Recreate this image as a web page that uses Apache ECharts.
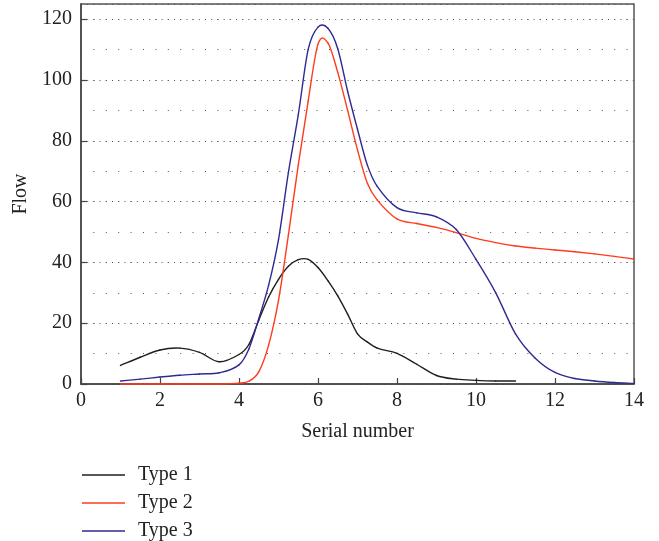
<!DOCTYPE html>
<html>
<head>
<meta charset="utf-8">
<script src="https://cdn.jsdelivr.net/npm/echarts@6/dist/echarts.min.js"></script>
<style>
  html, body { margin: 0; padding: 0; background: #fff; }
  #flow { width: 659px; height: 541px; }
</style>
</head>
<body>
<div id="flow"></div>
<script>
// serial numbers where the curves were read
const serial = [1, 1.5, 2, 2.5, 3, 3.5, 4, 4.25, 4.5, 4.75, 5, 5.25, 5.5, 5.75, 6, 6.25, 6.5, 6.75, 7, 7.25,
    7.5, 8, 8.5, 9, 9.5, 10, 10.5, 11, 11.5, 12, 12.5, 13, 13.5, 14]

// Type 1 stops at 11
const type1 = [6.1, 8.8, 11.2, 11.8, 10.4, 7.3, 9.7, 13, 21, 28.6, 34.4, 38.7, 40.9, 41, 38.3, 34, 29, 23, 16.5, 13.8,
    11.8, 10.1, 6.5, 2.8, 1.6, 1.2, 1.0, 1.0]
const type2 = [0, 0, 0, 0, 0, 0, 0.3, 0.9, 4, 12.8, 27.5, 49, 72, 93, 111.8, 112.2, 102.5, 90, 77, 66,
    60.5, 54.3, 52.8, 51.5, 49.8, 47.9, 46.5, 45.4, 44.7, 44.1, 43.5, 42.8, 42, 41.1]
const type3 = [1.0, 1.6, 2.3, 2.9, 3.3, 3.7, 6.3, 11.5, 21.5, 32.5, 47.5, 69.5, 88.5, 110, 117.4, 117, 110.3, 96.3, 83.8, 72,
    65, 58, 56.3, 55, 50.8, 41, 30, 16.5, 8.5, 3.8, 1.8, 1.0, 0.5, 0.2]

const names = ['Type 1', 'Type 2', 'Type 3']
const colors = ['#1e1e1e', '#ff3b1c', '#2e2a92']

const font = 'Liberation Serif'

// smooth curve through the read points, drawn with the chart's own coordinates
function curve(ys, i) {
    const pts = ys.map((y, k) => [serial[k], y])
    return {
        name: names[i],
        type: 'custom',
        data: pts,
        encode: { x: 0, y: 1 },
        itemStyle: { color: colors[i] },
        z: 3 + i,
        renderItem(params, api) {
            if (params.dataIndex !== 0) return null
            const p = pts.map(d => api.coord(d))
            const n = p.length
            const m = p.map((q, k) => {
                const a = p[Math.max(k - 1, 0)], b = p[Math.min(k + 1, n - 1)]
                return (b[1] - a[1]) / (b[0] - a[0])
            })
            const children = []
            for (let k = 0; k < n - 1; k++) {
                const h = p[k + 1][0] - p[k][0]
                children.push({
                    type: 'bezierCurve',
                    shape: {
                        x1: p[k][0], y1: p[k][1],
                        x2: p[k + 1][0], y2: p[k + 1][1],
                        cpx1: p[k][0] + h / 3, cpy1: p[k][1] + m[k] * h / 3,
                        cpx2: p[k + 1][0] - h / 3, cpy2: p[k + 1][1] - m[k + 1] * h / 3
                    },
                    style: { stroke: colors[i], fill: 'none', lineWidth: 1.4, lineCap: 'round' }
                })
            }
            return { type: 'group', children }
        }
    }
}

const myChart = echarts.init(document.getElementById('flow'))

const option = {
    animation: false,
    backgroundColor: '#fff',
    textStyle: { fontFamily: font },
    grid: {
        left: 81, right: 25, top: 4, bottom: 157,
        show: true, borderColor: '#555', borderWidth: 1.5, backgroundColor: 'transparent'
    },
    legend: {
        orient: 'vertical',
        left: 82,
        top: 465,
        height: 120,
        padding: 0,
        itemWidth: 43,
        itemHeight: 16,
        itemGap: 8,
        icon: 'path://M0,9 L43,9 L43,10.5 L0,10.5 Z',
        textStyle: { fontFamily: font, fontSize: 20, color: '#222', padding: [0, 0, 0, 8] },
        data: names
    },
    xAxis: {
        type: 'value',
        min: 0,
        max: 14,
        interval: 2,
        name: 'Serial number',
        nameLocation: 'middle',
        nameGap: 38,
        nameTextStyle: { fontFamily: font, fontSize: 20, color: '#222' },
        axisLine: { show: true, onZero: false, lineStyle: { color: '#444', width: 1.5 } },
        axisTick: { show: true, inside: true, length: 6, lineStyle: { color: '#444', width: 1.2 } },
        axisLabel: { fontFamily: font, fontSize: 20, color: '#222', margin: 7 },
        splitLine: { show: false }
    },
    yAxis: [
        {
            type: 'value',
            min: 0,
            max: 125,
            interval: 20,
            name: 'Flow',
            nameLocation: 'middle',
            nameGap: 47,
            nameRotate: 90,
            nameTextStyle: { fontFamily: font, fontSize: 20, color: '#222' },
            axisLine: { show: true, lineStyle: { color: '#444', width: 1.5 } },
            axisTick: { show: true, inside: true, length: 6, lineStyle: { color: '#444', width: 1.2 } },
            axisLabel: { fontFamily: font, fontSize: 20, color: '#222', margin: 9, showMaxLabel: false },
            splitLine: { show: true, lineStyle: { color: '#555', width: 1, type: [1, 5.2] } }
        },
        {
            // coarser dotted lines every 10
            type: 'value',
            min: 0,
            max: 125,
            interval: 10,
            position: 'left',
            axisLine: { show: false },
            axisTick: { show: false },
            axisLabel: { show: false },
            splitLine: { show: true, lineStyle: { color: '#555', width: 1, type: [1, 11.4] } }
        }
    ],
    series: [type1, type2, type3].map(curve)
}

myChart.setOption(option)
</script>
</body>
</html>
